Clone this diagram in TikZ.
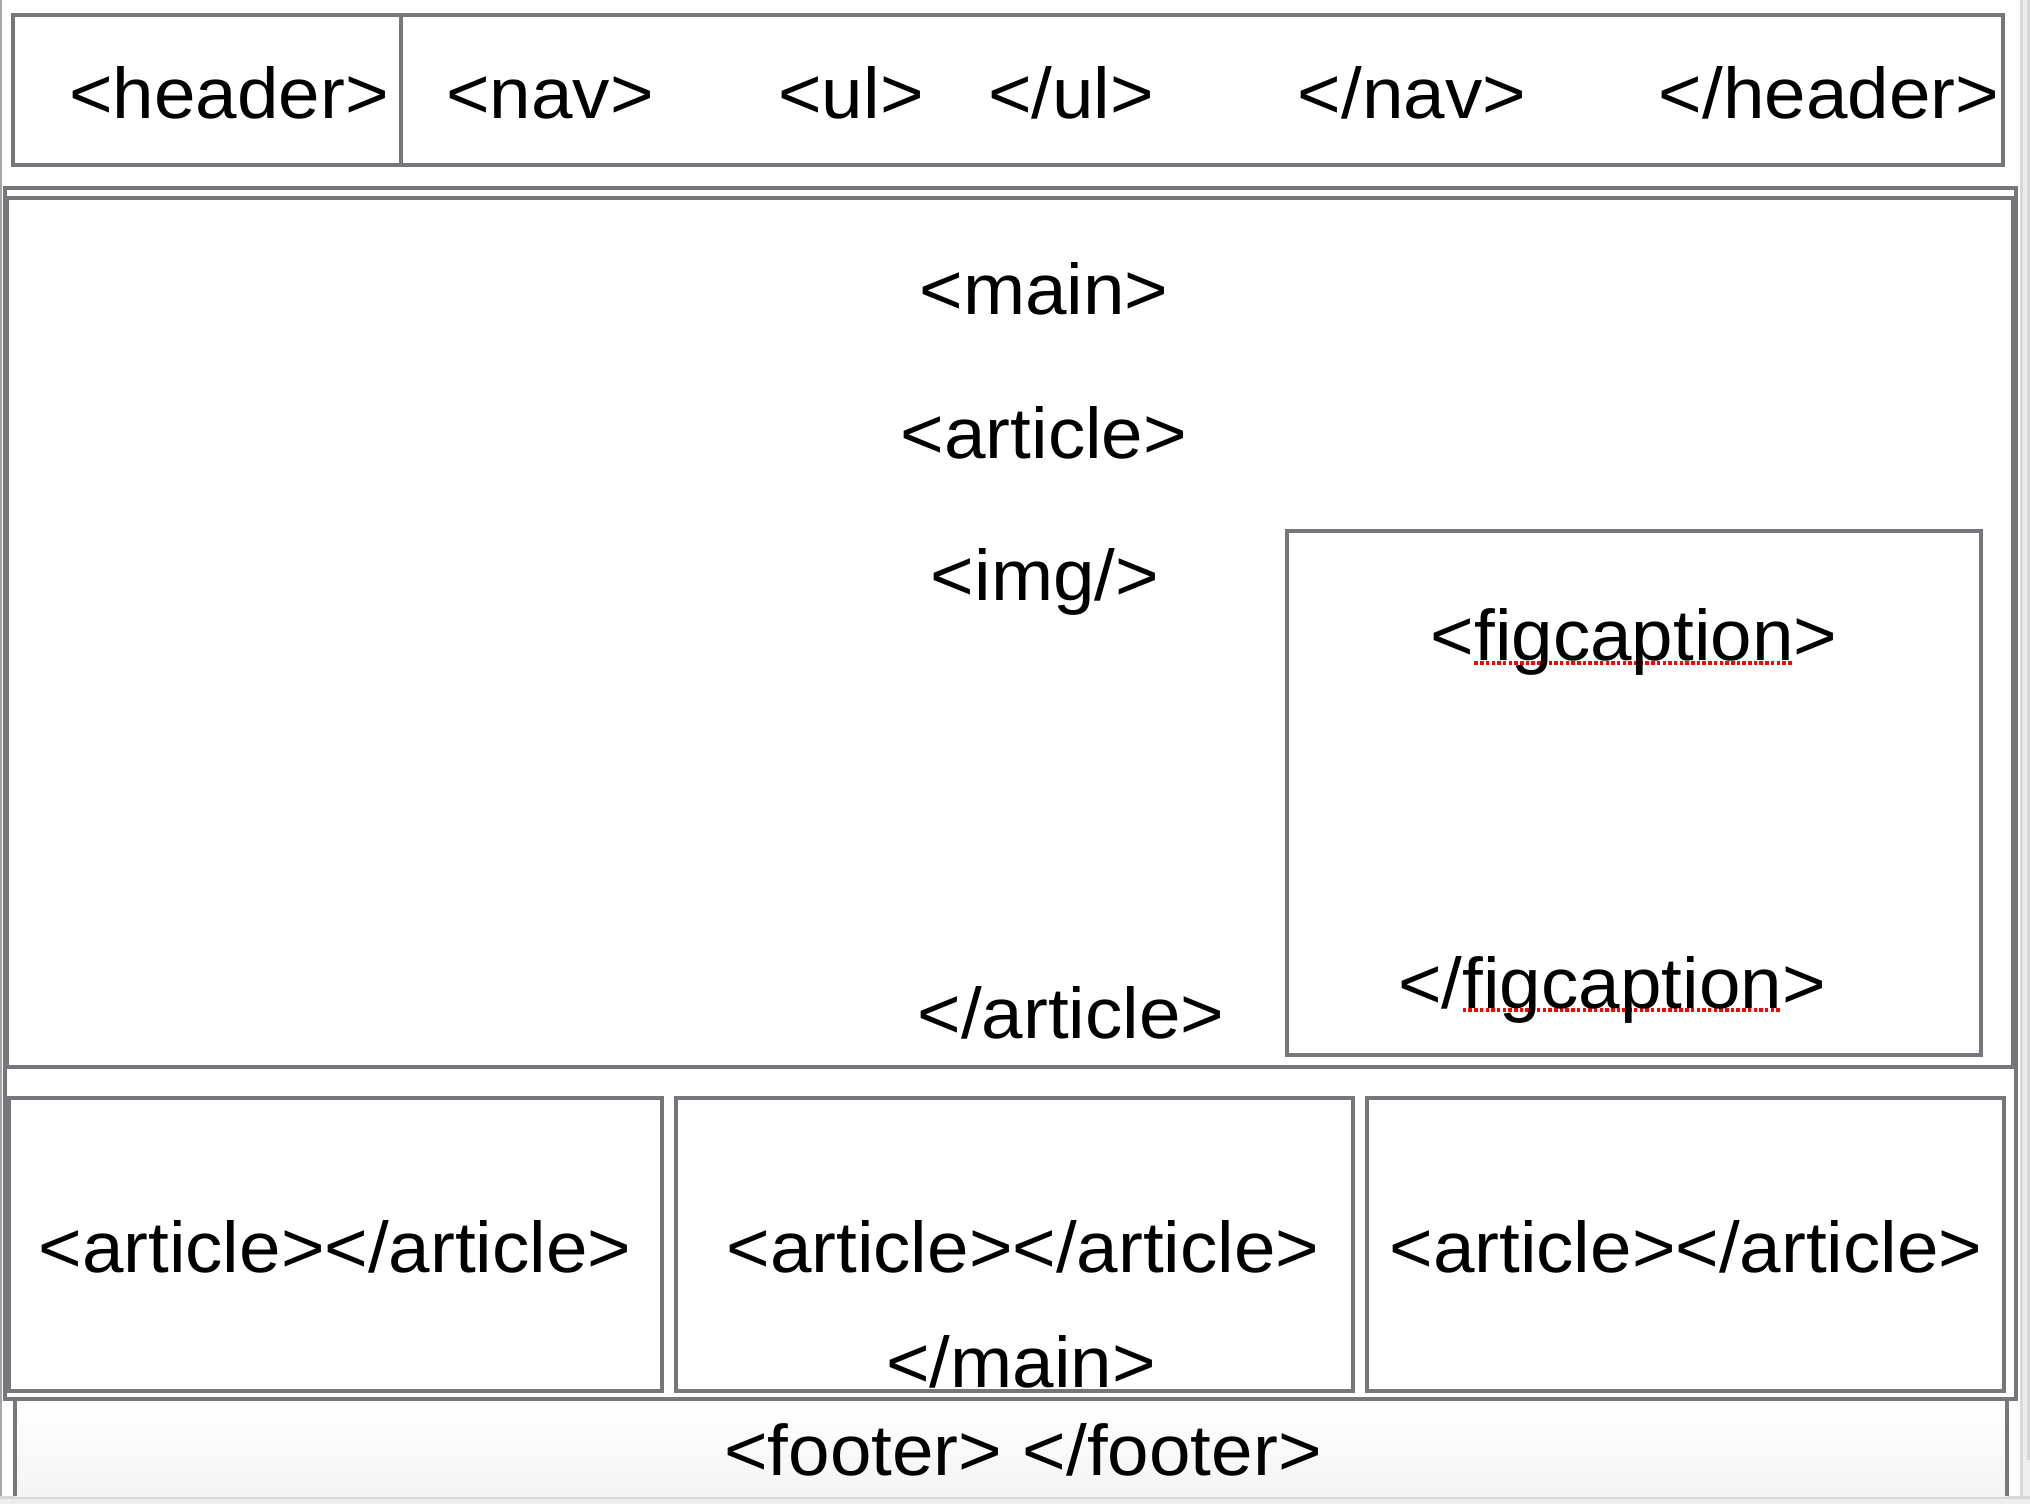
\documentclass[tikz,border=0pt]{standalone}
\usepackage{fontspec}
\setmainfont{Liberation Sans}[FakeStretch=1.04]
\definecolor{linegray}{RGB}{117,119,123}
\definecolor{chromeA}{RGB}{165,165,165}
\definecolor{chromeB}{RGB}{216,216,216}
\definecolor{chromeC}{RGB}{238,238,238}
\definecolor{footbot}{RGB}{244,244,244}
\newcommand\spellmark[1]{\setbox0\hbox{#1}\rlap{\lower1.1pt\hbox to\wd0{\color{red}\xleaders\hbox{\rule{1pt}{1pt}\kern0.6pt}\hfill}}\box0}
\tikzset{
  tag/.style={font=\fontsize{20.4}{24}\selectfont, inner sep=0pt, anchor=base, text=black, yshift=-0.02cm},
  frame/.style={draw=linegray, line width=1pt},
}
\begin{document}
\begin{tikzpicture}[x=0.01cm, y=-0.01cm]
\useasboundingbox (0,0) rectangle (2030,1504);
\fill[white] (0,0) rectangle (2030,1504);
% window chrome
\fill[chromeA] (0,0) rectangle (2,1496);
\fill[chromeB] (2020,0) rectangle (2023,1496);
\fill[chromeC] (2023,0) rectangle (2030,1504);
\fill[chromeB] (2027,0) rectangle (2030,1460);
\fill[chromeB] (0,1496) rectangle (2030,1499);
\fill[chromeC] (0,1499) rectangle (2030,1504);
% footer background
\shade[top color=white, bottom color=footbot] (15,1399) rectangle (2007,1496);
% header
\draw[frame] (13,15) rectangle (2003,165);
\draw[frame] (401,15) -- (401,165);
% main
\draw[frame] (5,188) rectangle (2016,1399);
\draw[frame] (7,198) rectangle (2013,1067);
\draw[frame] (1287,531) rectangle (1981,1055);
\draw[frame] (9,1098) rectangle (662,1391);
\draw[frame] (676,1098) rectangle (1353,1391);
\draw[frame] (1367,1098) rectangle (2004,1391);
% footer
\draw[frame] (15,1399) -- (15,1496);
\draw[frame] (2007,1399) -- (2007,1496);
% texts
\node[tag] (hdr) at (229,117) {<header>};
\node[tag] (nav) at (550,117) {<nav>};
\node[tag] (ul) at (851,117) {<ul>};
\node[tag] (ulc) at (1071,117) {</ul>};
\node[tag] (navc) at (1412,117) {</nav>};
\node[tag] (hdrc) at (1829,117) {</header>};
\node[tag] (mainopen) at (1044,313) {<main>};
\node[tag] (art) at (1044,457) {<article>};
\node[tag] (img) at (1045,599) {<img/>};
\node[tag] (artc) at (1071,1037) {</article>};
\node[tag] (fig) at (1634,659) {<\spellmark{figcaption}>};
\node[tag] (figc) at (1612,1006) {</\spellmark{figcaption}>};
\node[tag] (a1) at (335,1270) {<article></article>};
\node[tag] (a2) at (1023,1270) {<article></article>};
\node[tag] (a3) at (1686,1270) {<article></article>};
\node[tag] (mainc) at (1021,1385) {</main>};
\node[tag] (foot) at (1023,1473) {<footer> </footer>};
\end{tikzpicture}
\end{document}
